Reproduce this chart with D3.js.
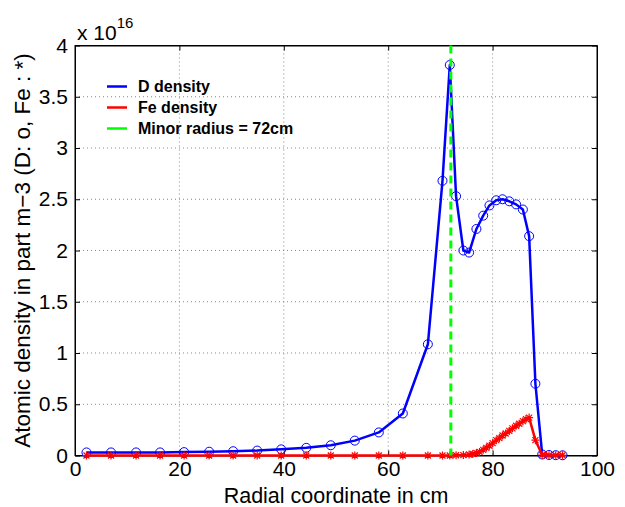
<!DOCTYPE html>
<html>
<head>
<meta charset="utf-8">
<script src="https://cdn.jsdelivr.net/npm/d3@7"></script>
<style>
  body { margin: 0; background: #fff; }
  svg { display: block; font-family: 'Liberation Sans', Arial, sans-serif; }
</style>
</head>
<body>
<div id="chart"></div>
<script>
// D density (units of 1e16 m^-3) vs radial coordinate (cm)
const dX = [2.2, 6.9, 11.7, 16.3, 20.9, 25.7, 30.3, 34.9, 39.5, 44.3, 49.0, 53.6, 58.2, 62.8, 67.6,
  70.4, 71.8, 73.0, 74.4, 75.5, 76.9, 78.2, 79.4, 80.7, 81.9, 83.2, 84.5, 85.8, 87.0, 88.2,
  89.5, 90.8, 92.1, 93.4];
const dY = [0.03, 0.03, 0.03, 0.03, 0.033, 0.037, 0.042, 0.048, 0.06, 0.075, 0.1, 0.145, 0.225, 0.41, 1.085,
  2.68, 3.81, 2.53, 2.0, 1.98, 2.21, 2.34, 2.44, 2.49, 2.5, 2.48, 2.45, 2.4, 2.14, 0.7,
  0.01, 0.005, 0.003, 0.002];

// Fe density
const feX = [2.2, 6.9, 11.7, 16.3, 20.9, 25.7, 30.3, 34.9, 39.5, 44.3, 49.0, 53.6, 58.2, 62.8, 67.6,
  70.4, 71.8, 73.0, 74.4, 75.5, 76.2, 76.9, 77.5, 78.2, 78.8, 79.4, 80.0, 80.7, 81.3, 81.9,
  82.5, 83.2, 83.8, 84.5, 85.1, 85.8, 86.4, 87.0, 88.2, 89.5, 90.8, 92.1, 93.4];
const feY = [0, 0, 0, 0, 0, 0, 0, 0, 0, 0, 0, 0, 0, 0, 0,
  0, 0, 0.002, 0.004, 0.01, 0.015, 0.025, 0.035, 0.055, 0.075, 0.095, 0.12, 0.15, 0.17, 0.195,
  0.215, 0.24, 0.265, 0.29, 0.31, 0.335, 0.355, 0.37, 0.15, 0.005, 0.002, 0.002, 0.002];

const minorRadius = 72;
const xTicks = [0, 20, 40, 60, 80, 100];
const yTicks = [0, 0.5, 1, 1.5, 2, 2.5, 3, 3.5, 4];
const legendLabels = ['D density', 'Fe density', 'Minor radius = 72cm'];
const legendColors = ['#0000ff', '#ff0000', '#00ff00'];

const W = 625;
const H = 507;
const margin = { top: 45.5, right: 28, bottom: 51.5, left: 75 };
const width = W - margin.left - margin.right;
const height = H - margin.top - margin.bottom;

const svg = d3.select('#chart').append('svg')
  .attr('width', W)
  .attr('height', H);

const g = svg.append('g')
  .attr('transform', `translate(${margin.left},${margin.top})`);

const x = d3.scaleLinear().domain([0, 100]).range([0, width]);
const y = d3.scaleLinear().domain([0, 4]).range([height, 0]);

// grid
g.append('g').selectAll('line')
  .data(xTicks.slice(1, -1))
  .join('line')
  .attr('x1', d => x(d)).attr('x2', d => x(d))
  .attr('y1', 0).attr('y2', height)
  .attr('stroke', '#888').attr('stroke-dasharray', '1,3');

g.append('g').selectAll('line')
  .data(yTicks.slice(1, -1))
  .join('line')
  .attr('y1', d => y(d)).attr('y2', d => y(d))
  .attr('x1', 0).attr('x2', width)
  .attr('stroke', '#888').attr('stroke-dasharray', '1,3');

// axes (ticks inward, MATLAB-ish)
const xAxis = g.append('g')
  .attr('transform', `translate(0,${height})`)
  .call(d3.axisBottom(x).tickValues(xTicks).tickSizeInner(-5).tickSizeOuter(0).tickPadding(6));
const yAxis = g.append('g')
  .call(d3.axisLeft(y).tickValues(yTicks).tickSizeInner(-5).tickSizeOuter(0).tickPadding(7)
    .tickFormat(d3.format('')));
g.append('g')
  .call(d3.axisTop(x).tickValues(xTicks).tickSizeInner(-5).tickSizeOuter(0).tickFormat(''));
g.append('g')
  .attr('transform', `translate(${width},0)`)
  .call(d3.axisRight(y).tickValues(yTicks).tickSizeInner(-5).tickSizeOuter(0).tickFormat(''));

[xAxis, yAxis].forEach(a => {
  a.selectAll('text')
    .attr('font-size', 21)
    .attr('font-family', "'Liberation Sans', Arial, sans-serif")
    .attr('fill', '#000');
});
g.selectAll('.domain').attr('stroke', '#000');
g.selectAll('.tick line').attr('stroke', '#000');

g.append('rect')
  .attr('width', width).attr('height', height)
  .attr('fill', 'none').attr('stroke', '#000');

// data lines
const line = d3.line().x(d => x(d[0])).y(d => y(d[1]));
const dData = dX.map((v, i) => [v, dY[i]]);
const feData = feX.map((v, i) => [v, feY[i]]);

g.append('path')
  .datum(dData)
  .attr('d', line)
  .attr('fill', 'none')
  .attr('stroke', '#0000ff')
  .attr('stroke-width', 2.5)
  .attr('stroke-linejoin', 'round');

g.append('g').selectAll('circle')
  .data(dData)
  .join('circle')
  .attr('cx', d => x(d[0]))
  .attr('cy', d => y(d[1]))
  .attr('r', 4.5)
  .attr('fill', 'none')
  .attr('stroke', '#0000ff')
  .attr('stroke-width', 1);

g.append('path')
  .datum(feData)
  .attr('d', line)
  .attr('fill', 'none')
  .attr('stroke', '#ff0000')
  .attr('stroke-width', 2.5)
  .attr('stroke-linejoin', 'round');

// asterisk markers
const star = 'M-4,0H4M0,-4V4M-3,-3L3,3M-3,3L3,-3';
g.append('g').selectAll('path')
  .data(feData)
  .join('path')
  .attr('transform', d => `translate(${x(d[0])},${y(d[1])})`)
  .attr('d', star)
  .attr('stroke', '#ff0000')
  .attr('stroke-width', 1.2);

// minor radius line
g.append('line')
  .attr('x1', x(minorRadius)).attr('x2', x(minorRadius))
  .attr('y1', 0).attr('y2', height)
  .attr('stroke', '#00ff00')
  .attr('stroke-width', 3)
  .attr('stroke-dasharray', '8,5');

// legend
const legend = g.append('g').attr('transform', 'translate(32,41)');
legendLabels.forEach((lab, i) => {
  const row = legend.append('g').attr('transform', `translate(0,${i * 21})`);
  row.append('line')
    .attr('x1', 0).attr('x2', 20)
    .attr('stroke', legendColors[i]).attr('stroke-width', 2.5);
  row.append('text')
    .attr('x', 31).attr('y', 5.5)
    .attr('font-size', 16)
    .attr('font-weight', 'bold')
    .text(lab);
});

// axis labels
svg.append('text')
  .attr('x', margin.left + width / 2)
  .attr('y', 503)
  .attr('text-anchor', 'middle')
  .attr('font-size', 21.5)
  .text('Radial coordinate in cm');

svg.append('text')
  .attr('transform', `translate(30,${margin.top + height / 2}) rotate(-90)`)
  .attr('text-anchor', 'middle')
  .attr('font-size', 22.5)
  .text('Atomic density in part m\u22123 (D: o, Fe : *)');

const mult = svg.append('text')
  .attr('x', 77)
  .attr('y', 40)
  .attr('font-size', 21);
mult.append('tspan').text('x 10');
mult.append('tspan').attr('dy', -12).attr('font-size', 15).text('16');
</script>
</body>
</html>
